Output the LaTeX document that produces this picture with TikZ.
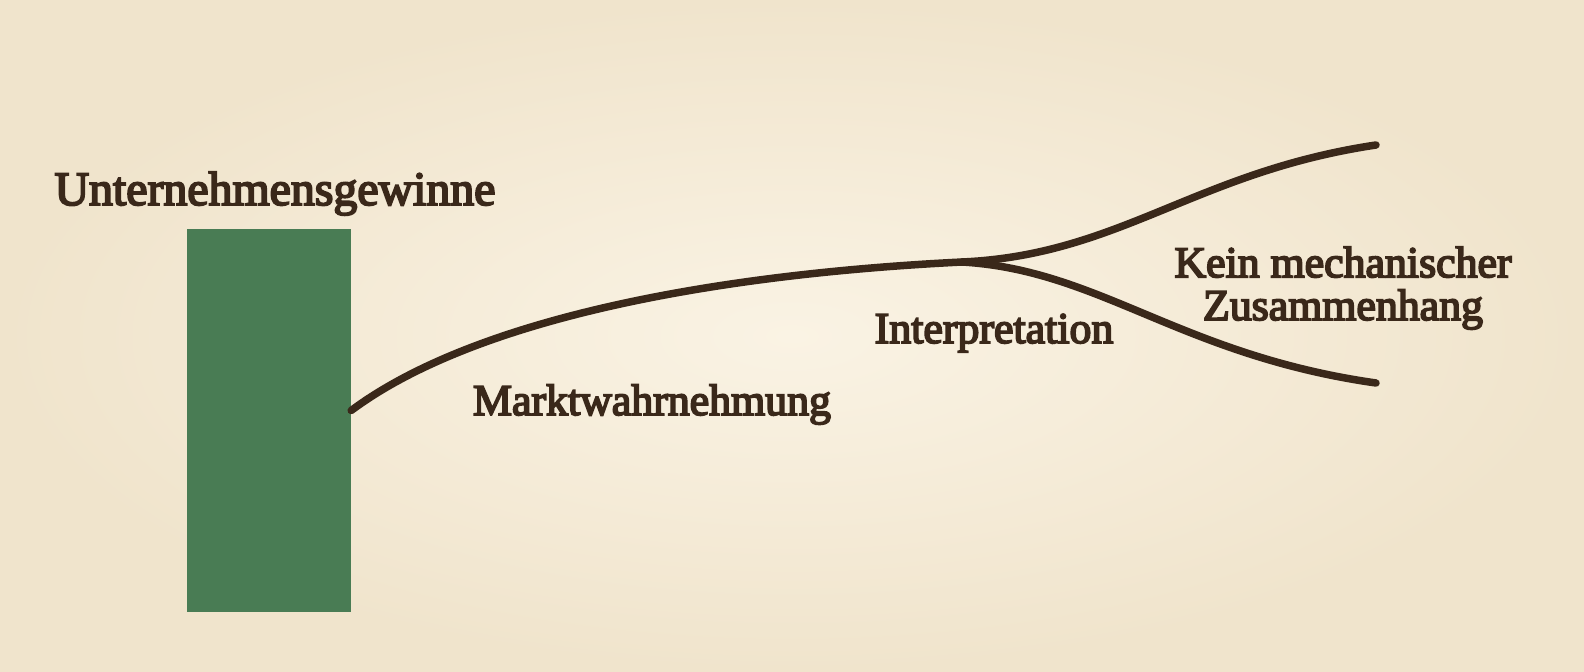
\documentclass[tikz,border=0pt]{standalone}
\usepackage{fontspec}
\setmainfont{Liberation Serif}
\usetikzlibrary{positioning}
\definecolor{paper}{RGB}{250,243,228}
\definecolor{paperedge}{RGB}{240,228,204}
\definecolor{bar}{RGB}{73,124,84}
\definecolor{ink}{RGB}{58,40,26}
\newcommand{\heavy}{\addfontfeature{FakeBold=4}}
\begin{document}
\begin{tikzpicture}[x=1bp, y=-1bp,
  branch/.style={line width=7.5bp, ink, line cap=round},
  label/.style={text=ink, inner sep=0pt, anchor=base, font=\fontsize{44}{43}\selectfont\heavy}]
  \useasboundingbox (0,0) rectangle (1584,672);
  \shade[inner color=paper, outer color=paperedge] (0,0) rectangle (1584,672);
  \node[fill=bar, minimum width=164bp, minimum height=383bp, inner sep=0pt] (gewinn) at (269,420.5) {};
  \node[label, font=\fontsize{48}{56}\selectfont\heavy] (titel) at (275,205) {Unternehmensgewinne};
  \coordinate (start) at ([yshift=10bp]gewinn.east);
  \coordinate (fork) at (962,262);
  \coordinate (oben) at (1376,145);
  \coordinate (unten) at (1376,383);
  \draw[branch] (start) .. controls (470,322) and (700,275) .. (fork);
  \draw[branch] (fork) .. controls (1120,255) and (1195,172) .. (oben);
  \draw[branch] (fork) .. controls (1100,270) and (1180,355) .. (unten);
  \node[label] (markt) at (652,415) {Marktwahrnehmung};
  \node[label] (interp) at (994,343) {Interpretation};
  \node[label, align=center] (kein) at (1343,320) {Kein mechanischer\\Zusammenhang};
\end{tikzpicture}
\end{document}
